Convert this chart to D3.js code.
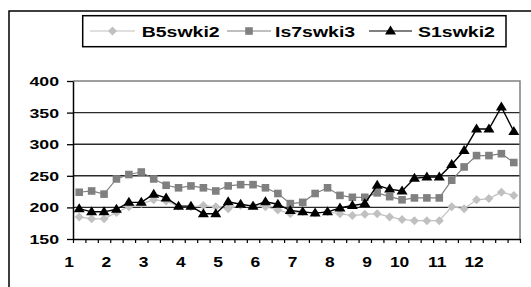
<!DOCTYPE html>
<html lang="en">
<head>
<meta charset="UTF-8">
<title>swki chart</title>
<script src="https://d3js.org/d3.v7.min.js"></script>
<style>
body { margin: 0; background: white; }
svg { display: block; }
text { font-family: "Liberation Sans", Arial, sans-serif; font-weight: bold; fill: black; }
</style>
</head>
<body>
<svg></svg>
<script>
// 36 points, labelled every 3rd boundary
let xLabels = ["1","2","3","4","5","6","7","8","9","10","11","12"];
let yTicks = [150, 200, 250, 300, 350, 400];

let b5swki2 = [185,182,182,192,201,206,212,210,202,201,203,201,198,203,203,201,196,190,
               193,191,193,190,187,189,190,185,181,179,179,179,201,198,212,214,224,219];
let is7swki3 = [224,226,221,245,252,256,245,235,231,234,231,226,234,236,236,231,222,206,
                208,222,231,219,216,216,223,217,212,215,215,215,243,264,282,282,285,271];
let s1swki2 = [198,193,193,197,208,208,221,215,202,202,190,190,209,205,202,209,205,195,
               193,191,193,199,203,206,235,229,226,246,248,248,268,290,324,324,359,320];

let series = [
  {name: "B5swki2", values: b5swki2, color: "#c0c0c0", marker: "diamond"},
  {name: "Is7swki3", values: is7swki3, color: "#808080", marker: "square"},
  {name: "S1swki2", values: s1swki2, color: "#000000", marker: "triangle"}
];

let width = 531, height = 287;
let svg = d3.select("svg").attr("width", width).attr("height", height);

// outer chart frame (runs off the right and bottom)
svg.append("rect")
  .attr("x", 9).attr("y", 11)
  .attr("width", 560).attr("height", 320)
  .attr("fill", "white").attr("stroke", "black").attr("stroke-width", 1.5);

let plotL = 73, plotR = 520, plotT = 81, plotB = 239;
let n = b5swki2.length;

let x = d3.scaleBand().domain(d3.range(n)).range([plotL, plotR]).padding(0);
let xb = d3.scaleLinear().domain([0, n]).range([plotL, plotR]);
let y = d3.scaleLinear().domain([150, 400]).range([plotB, plotT]);

// gridlines
svg.append("g").selectAll("line")
  .data(yTicks.filter(d => d > 150 && d < 400)).enter().append("line")
  .attr("x1", plotL).attr("x2", plotR)
  .attr("y1", d => y(d)).attr("y2", d => y(d))
  .attr("stroke", "#2a2a2a").attr("stroke-width", 1.4);

// plot border (top/right gray)
svg.append("path")
  .attr("d", `M${plotL},${y(400)}H${plotR}V${plotB}`)
  .attr("fill", "none").attr("stroke", "#808080").attr("stroke-width", 1.5);

// y axis
let yAxis = svg.append("g")
  .attr("transform", `translate(${plotL},0)`)
  .call(d3.axisLeft(y).tickValues(yTicks).tickSize(6).tickSizeOuter(0));
yAxis.select(".domain").attr("stroke", "black").attr("stroke-width", 1.5);
yAxis.selectAll(".tick line").attr("stroke", "black").attr("stroke-width", 1.3);
yAxis.selectAll(".tick text")
  .attr("x", -14 / 1.42).attr("dy", "0.36em")
  .attr("transform", "scale(1.42,1)")
  .attr("font-family", null).attr("font-size", null)
  .style("font-size", "12.5px");
yAxis.attr("font-family", null).attr("font-size", null);

// x axis: ticks on category boundaries
let xAxis = svg.append("g")
  .attr("transform", `translate(0,${plotB})`)
  .call(d3.axisBottom(xb).tickValues(d3.range(n + 1)).tickFormat("").tickSize(4).tickSizeOuter(0));
xAxis.select(".domain").attr("stroke", "black").attr("stroke-width", 1.5);
xAxis.selectAll(".tick line").attr("stroke", "black").attr("stroke-width", 1.2);

svg.append("g").selectAll("text")
  .data(xLabels).enter().append("text")
  .attr("text-anchor", "end")
  .attr("transform", (d, i) => `translate(${xb(i * 3) + 1},${plotB + 28}) scale(1.2,1)`)
  .style("font-size", "14.5px")
  .text(d => d);

// marker shapes
function markerPath(type) {
  if (type === "diamond") return "M0,-4.5L4.5,0L0,4.5L-4.5,0Z";
  if (type === "square") return "M-3.8,-3.8H3.8V3.8H-3.8Z";
  return "M0,-5.5L5.5,3.5H-5.5Z";
}

let line = d3.line()
  .x((d, i) => x(i) + x.bandwidth() / 2)
  .y(d => y(d));

series.forEach(s => {
  let g = svg.append("g");
  g.append("path")
    .attr("d", line(s.values))
    .attr("fill", "none")
    .attr("stroke", s.color)
    .attr("stroke-width", s.marker === "triangle" ? 1.4 : 1.2);
  g.selectAll("path.m").data(s.values).enter().append("path")
    .attr("class", "m")
    .attr("d", markerPath(s.marker))
    .attr("transform", (d, i) => `translate(${x(i) + x.bandwidth() / 2},${y(d)})`)
    .attr("fill", s.color);
});

// legend
let legend = svg.append("g");
legend.append("rect")
  .attr("x", 82.7).attr("y", 15.7)
  .attr("width", 423.3).attr("height", 31)
  .attr("fill", "white").attr("stroke", "black").attr("stroke-width", 1.5);

let legendPos = [
  {x1: 90, x2: 135, tx: 141.7},
  {x1: 227, x2: 271, tx: 275},
  {x1: 369, x2: 412, tx: 418}
];
series.forEach((s, i) => {
  let p = legendPos[i];
  legend.append("line")
    .attr("x1", p.x1).attr("x2", p.x2).attr("y1", 31).attr("y2", 31)
    .attr("stroke", s.color).attr("stroke-width", 1.2);
  legend.append("path")
    .attr("d", markerPath(s.marker))
    .attr("transform", `translate(${(p.x1 + p.x2) / 2},31)`)
    .attr("fill", s.color);
  legend.append("text")
    .attr("transform", `translate(${p.tx},36.5) scale(1.3,1)`)
    .style("font-size", "15px")
    .text(s.name);
});
</script>
</body>
</html>
